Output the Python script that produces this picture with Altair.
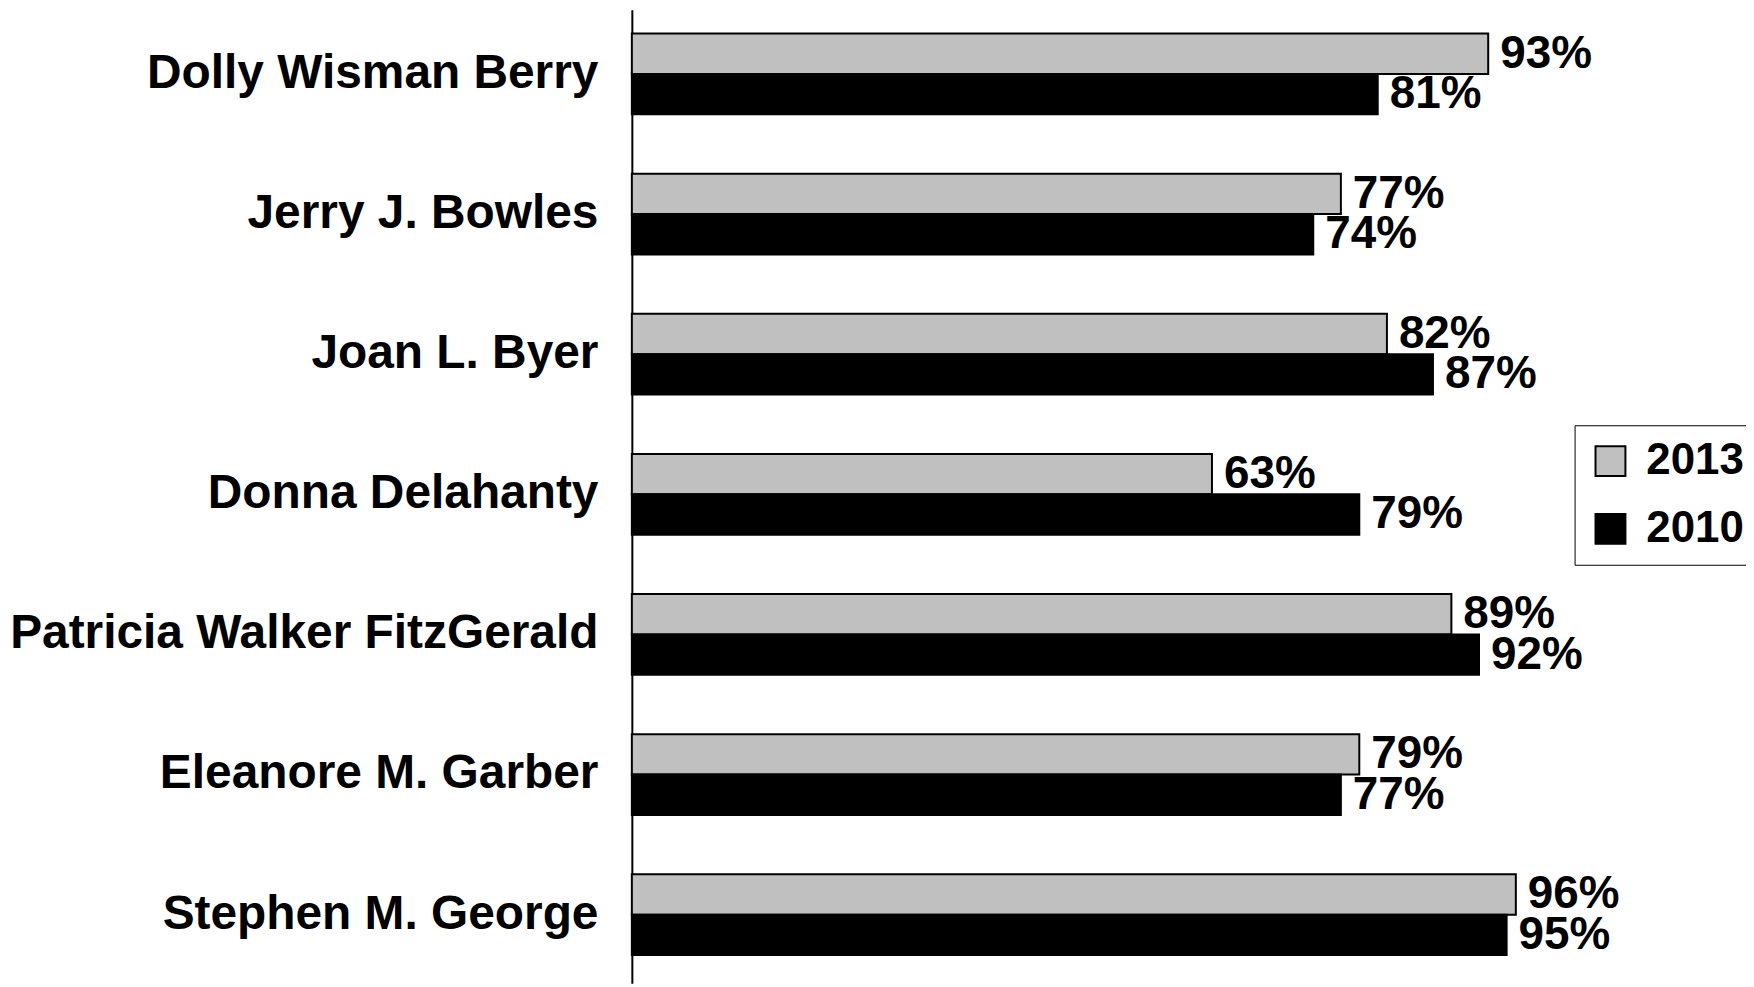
import altair as alt
import pandas as pd

names = ["Dolly Wisman Berry", "Jerry J. Bowles", "Joan L. Byer", "Donna Delahanty",
         "Patricia Walker FitzGerald", "Eleanore M. Garber", "Stephen M. George"]
years = ["2013", "2010"]
v2013 = [93, 77, 82, 63, 89, 79, 96]
v2010 = [81, 74, 87, 79, 92, 77, 95]

rows = []
for n, a, b in zip(names, v2013, v2010):
    rows.append({"name": n, "year": "2013", "value": a})
    rows.append({"name": n, "year": "2010", "value": b})
df = pd.DataFrame(rows)

FONT = "Liberation Sans"

y_enc = alt.Y("name:N", sort=names,
              scale=alt.Scale(paddingInner=0.424, paddingOuter=0.1865, align=0.458),
              axis=alt.Axis(title=None, ticks=False, domainColor="black", domainWidth=2,
                            labelFontSize=48, labelFontWeight="bold", labelColor="black",
                            labelFont=FONT, labelPadding=34, labelLimit=800))
yoff = alt.YOffset("year:N", sort=years, scale=alt.Scale(paddingInner=0, paddingOuter=0))
x_enc = alt.X("value:Q", scale=alt.Scale(domain=[0, 100]), axis=None)

bars = alt.Chart(df).mark_bar(stroke="black", strokeWidth=2).encode(
    y=y_enc, yOffset=yoff, x=x_enc,
    color=alt.Color("year:N", sort=years,
                    scale=alt.Scale(domain=years, range=["#c0c0c0", "#000000"]),
                    legend=alt.Legend(title=None, orient="none", legendX=946, legendY=417,
                                      symbolType="square", symbolSize=900,
                                      symbolStrokeColor="black", symbolStrokeWidth=2,
                                      labelFontSize=44, labelFontWeight="bold", labelFont=FONT,
                                      labelColor="black", labelOffset=14, rowPadding=24,
                                      padding=14, strokeColor="black", fillColor="white",
                                      cornerRadius=0)),
)

labels = alt.Chart(df).transform_calculate(
    lab="datum.value + '%'"
).mark_text(align="left", baseline="middle", dx=12, fontSize=46, fontWeight="bold",
            font=FONT, color="black").encode(
    y=alt.Y("name:N", sort=names), yOffset=alt.YOffset("year:N", sort=years), x="value:Q",
    text="lab:N",
)

chart = (bars + labels).properties(
    width=924, height=977,
    autosize=alt.AutoSizeParams(type="none"),
    padding={"left": 626, "top": 0, "right": 194, "bottom": 0},
).configure_view(strokeWidth=0)

chart.save("out.html", embed_options={"renderer": "svg", "actions": False})
